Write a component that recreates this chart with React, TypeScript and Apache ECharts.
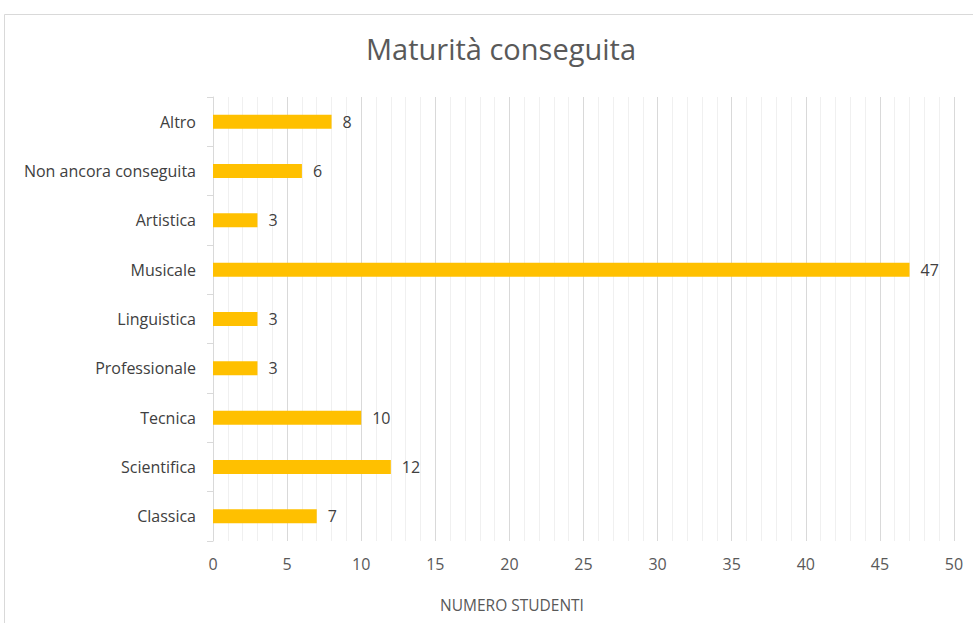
import React, { useEffect, useRef } from "react";
import * as echarts from "echarts";

const categories = [
  "Classica",
  "Scientifica",
  "Tecnica",
  "Professionale",
  "Linguistica",
  "Musicale",
  "Artistica",
  "Non ancora conseguita",
  "Altro",
];
const values = [7, 12, 10, 3, 3, 47, 3, 6, 8];
const titleText = "Maturità conseguita";
const xAxisName = "NUMERO STUDENTI";

const FONT = "'Open Sans', 'Noto Sans', sans-serif";

export default function App() {
  const ref = useRef<HTMLDivElement>(null);
  useEffect(() => {
    document.body.style.margin = "0";
    if (!ref.current) return;
    const chart = echarts.init(ref.current, null, { renderer: "svg" });
    chart.setOption({
      animation: false,
      backgroundColor: "#ffffff",
      title: {
        text: titleText,
        left: 361,
        top: 29,
        textStyle: {
          fontFamily: FONT,
          fontSize: 29,
          fontWeight: "normal",
          color: "#595959",
        },
      },
      graphic: [
        {
          type: "rect",
          shape: { x: 4.5, y: 14.5, width: 980, height: 620 },
          style: { fill: "none", stroke: "#d9d9d9", lineWidth: 1 },
          silent: true,
        },
        {
          type: "text",
          x: 512,
          y: 605,
          style: {
            text: xAxisName,
            fontFamily: FONT,
            fontSize: 15.5,
            fill: "#595959",
            align: "center",
            verticalAlign: "middle",
          },
          silent: true,
        },
      ],
      grid: { left: 213, right: 19, top: 97, bottom: 82, containLabel: false },
      xAxis: {
        type: "value",
        min: 0,
        max: 50,
        interval: 5,
        axisLine: { show: false },
        axisTick: { show: false },
        axisLabel: {
          margin: 15,
          fontFamily: FONT,
          fontSize: 16,
          color: "#595959",
        },
        splitLine: { show: true, lineStyle: { color: "#d9d9d9", width: 1 } },
        minorTick: { show: false, splitNumber: 5 },
        minorSplitLine: { show: true, lineStyle: { color: "#f0f0f0", width: 1 } },
      },
      yAxis: {
        type: "category",
        data: categories,
        axisLine: { show: true, lineStyle: { color: "#d9d9d9" } },
        axisTick: { show: true, length: 6, lineStyle: { color: "#d9d9d9" } },
        axisLabel: {
          margin: 17,
          fontFamily: FONT,
          fontSize: 16,
          color: "#404040",
        },
        splitLine: { show: false },
      },
      series: [
        {
          type: "bar",
          data: values,
          barWidth: 14,
          itemStyle: { color: "#FFC000" },
          label: {
            show: true,
            position: "right",
            distance: 11,
            fontFamily: FONT,
            fontSize: 16,
            color: "#404040",
          },
        },
      ],
    });
    return () => chart.dispose();
  }, []);
  return <div ref={ref} style={{ width: 973, height: 623 }} />;
}
